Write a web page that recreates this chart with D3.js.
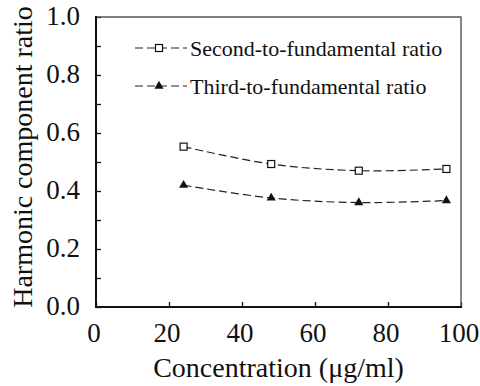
<!DOCTYPE html>
<html>
<head>
<meta charset="utf-8">
<script src="https://cdn.jsdelivr.net/npm/d3@7"></script>
<style>
  body { margin: 0; background: #fff; }
  svg text { font-family: "Liberation Serif", "Times New Roman", Tinos, "DejaVu Serif", serif; fill: #111; }
</style>
</head>
<body>
<svg width="480" height="386"></svg>
<script>
// datos
const concentracion = [24, 48, 72, 96];
const segunda = [0.553, 0.493, 0.470, 0.476];
const tercera = [0.420, 0.376, 0.360, 0.367];
const xTicks = [0, 20, 40, 60, 80, 100];
const yTicks = [0, 0.2, 0.4, 0.6, 0.8, 1.0];
const yMinor = [0.1, 0.3, 0.5, 0.7, 0.9];
const nombres = ["Second-to-fundamental ratio", "Third-to-fundamental ratio"];

const fuente = "'Liberation Serif', 'Times New Roman', Tinos, 'DejaVu Serif', serif";
const svg = d3.select("svg");
const mLeft = 96, mRight = 461, mTop = 17, mBottom = 307;

const x = d3.scaleLinear().domain([0, 100]).range([mLeft, mRight]);
const y = d3.scaleLinear().domain([0, 1]).range([mBottom, mTop]);

// ejes
const xAxis = svg.append("g")
    .attr("transform", `translate(0,${mBottom})`)
    .call(d3.axisBottom(x).tickValues(xTicks).tickSize(-5).tickPadding(16).tickFormat(d3.format("d")));
const yAxis = svg.append("g")
    .attr("transform", `translate(${mLeft},0)`)
    .call(d3.axisLeft(y).tickValues(yTicks).tickSize(-5).tickPadding(16).tickFormat(d3.format(".1f")));
svg.append("g")
    .attr("transform", `translate(${mLeft},0)`)
    .call(d3.axisLeft(y).tickValues(yMinor).tickSize(-5).tickFormat(""))
    .select(".domain").remove();

[xAxis, yAxis].forEach(g => {
    g.select(".domain").remove();
    g.attr("font-family", null);
    g.selectAll("text").style("font-size", "27px").style("font-family", fuente).attr("fill", "#111");
});
// etiquetas x un poco a la izquierda, como en el original
xAxis.selectAll("text").attr("x", -2.5);
yAxis.selectAll("text").attr("dy", "0.28em");
svg.selectAll(".tick line").attr("stroke", "#111").attr("stroke-width", 1.3);

// marco
svg.append("path")
    .attr("d", `M${mLeft},${mTop}H${mRight}V${mBottom}`)
    .attr("fill", "none").attr("stroke", "#555").attr("stroke-width", 1.4);
svg.append("path")
    .attr("d", `M${mLeft},${mTop - 1}V${mBottom}H${mRight + 1}`)
    .attr("fill", "none").attr("stroke", "#111").attr("stroke-width", 2);

// titulos
svg.append("text")
    .attr("x", (mLeft + mRight) / 2).attr("y", 377)
    .attr("text-anchor", "middle")
    .style("font-size", "28px").style("font-family", fuente)
    .text("Concentration (\u03bcg/ml)");
svg.append("text")
    .attr("transform", `translate(32,${157}) rotate(-90)`)
    .attr("text-anchor", "middle")
    .style("font-size", "28px").style("font-family", fuente)
    .text("Harmonic component ratio");

// lineas
const linea = d3.line()
    .x((d, i) => x(concentracion[i]))
    .y(d => y(d))
    .curve(d3.curveCardinal);

const series = [segunda, tercera];
series.forEach(s => {
    svg.append("path")
        .attr("d", linea(s))
        .attr("fill", "none").attr("stroke", "#222")
        .attr("stroke-width", 1.2).attr("stroke-dasharray", "8,4");
});

const tri = d3.symbol().type(d3.symbolTriangle).size(36);

function marcador(g, k, cx, cy) {
    if (k === 0) {
        g.append("rect")
            .attr("x", cx - 3.5).attr("y", cy - 3.5)
            .attr("width", 7).attr("height", 7)
            .attr("fill", "#fff").attr("stroke", "#111").attr("stroke-width", 1.2);
    } else {
        g.append("path")
            .attr("d", tri())
            .attr("transform", `translate(${cx},${cy})`)
            .attr("fill", "#111");
    }
}

series.forEach((s, k) => {
    s.forEach((v, i) => marcador(svg, k, x(concentracion[i]), y(v)));
});

// leyenda
const leyY = [48, 86];
nombres.forEach((n, k) => {
    svg.append("line")
        .attr("x1", 135).attr("x2", 187)
        .attr("y1", leyY[k]).attr("y2", leyY[k])
        .attr("stroke", "#222").attr("stroke-width", 1.2).attr("stroke-dasharray", "8,4");
    marcador(svg, k, 159, leyY[k]);
    svg.append("text")
        .attr("x", 190).attr("y", leyY[k] + 8)
        .style("font-size", "22px").style("font-family", fuente)
        .text(n);
});
</script>
</body>
</html>
